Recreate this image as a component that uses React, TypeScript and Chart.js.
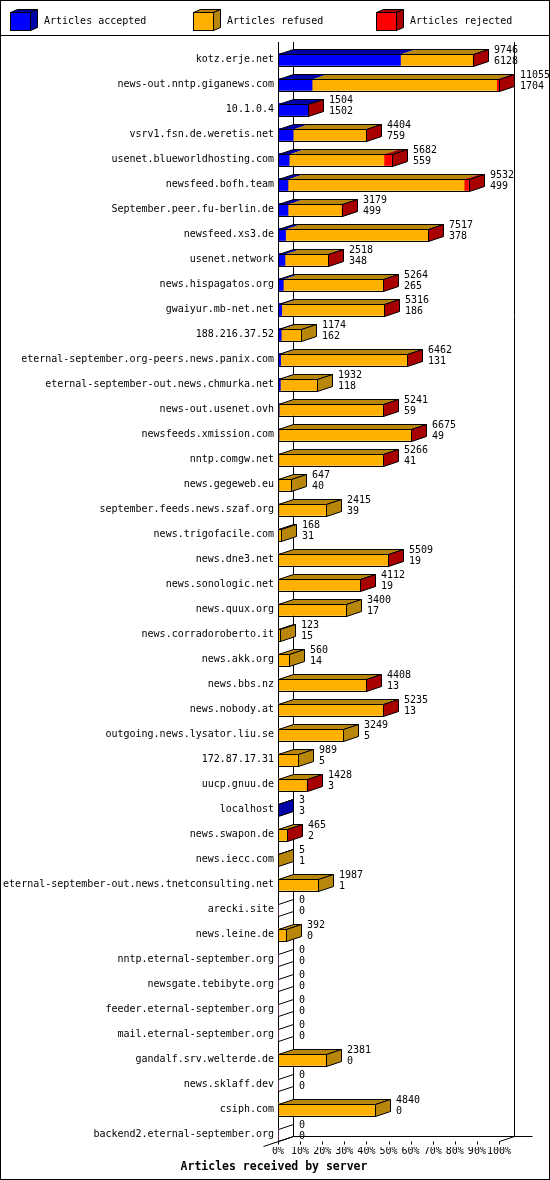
import React, { useEffect, useRef } from "react";
import { Chart, registerables } from "chart.js";

Chart.register(...registerables);

const servers = [
  "kotz.erje.net",
  "news-out.nntp.giganews.com",
  "10.1.0.4",
  "vsrv1.fsn.de.weretis.net",
  "usenet.blueworldhosting.com",
  "newsfeed.bofh.team",
  "September.peer.fu-berlin.de",
  "newsfeed.xs3.de",
  "usenet.network",
  "news.hispagatos.org",
  "gwaiyur.mb-net.net",
  "188.216.37.52",
  "eternal-september.org-peers.news.panix.com",
  "eternal-september-out.news.chmurka.net",
  "news-out.usenet.ovh",
  "newsfeeds.xmission.com",
  "nntp.comgw.net",
  "news.gegeweb.eu",
  "september.feeds.news.szaf.org",
  "news.trigofacile.com",
  "news.dne3.net",
  "news.sonologic.net",
  "news.quux.org",
  "news.corradoroberto.it",
  "news.akk.org",
  "news.bbs.nz",
  "news.nobody.at",
  "outgoing.news.lysator.liu.se",
  "172.87.17.31",
  "uucp.gnuu.de",
  "localhost",
  "news.swapon.de",
  "news.iecc.com",
  "eternal-september-out.news.tnetconsulting.net",
  "arecki.site",
  "news.leine.de",
  "nntp.eternal-september.org",
  "newsgate.tebibyte.org",
  "feeder.eternal-september.org",
  "mail.eternal-september.org",
  "gandalf.srv.welterde.de",
  "news.sklaff.dev",
  "csiph.com",
  "backend2.eternal-september.org",
];

const totals = [
  9746, 11055, 1504, 4404, 5682, 9532, 3179, 7517, 2518, 5264, 5316, 1174,
  6462, 1932, 5241, 6675, 5266, 647, 2415, 168, 5509, 4112, 3400, 123, 560,
  4408, 5235, 3249, 989, 1428, 3, 465, 5, 1987, 0, 392, 0, 0, 0, 0, 2381, 0,
  4840, 0,
];

const accepted = [
  6128, 1704, 1502, 759, 559, 499, 499, 378, 348, 265, 186, 162, 131, 118, 59,
  49, 41, 40, 39, 31, 19, 19, 17, 15, 14, 13, 13, 5, 5, 3, 3, 2, 1, 1, 0, 0, 0,
  0, 0, 0, 0, 0, 0, 0,
];

const rejected = [
  12, 120, 2, 9, 380, 220, 6, 11, 4, 7, 5, 0, 6, 0, 5, 8, 4, 0, 0, 0, 3, 4, 0,
  0, 0, 3, 4, 0, 0, 2, 0, 3, 0, 0, 0, 0, 0, 0, 0, 0, 0, 0, 0, 0,
];

const refused = totals.map((t, i) => t - accepted[i] - rejected[i]);

const seriesLabels = ["Articles accepted", "Articles refused", "Articles rejected"];
const frontColors = ["#0000ff", "#ffb000", "#ff0000"];
const darkColors = ["#0000a8", "#b8860b", "#a80000"];
const xTicks = [0, 10, 20, 30, 40, 50, 60, 70, 80, 90, 100];
const axisTitle = "Articles received by server";

const maxTotal = Math.max(...totals);
const toPct = (arr: number[]) => arr.map((v) => (v / maxTotal) * 100);

const DX = 15;
const DY = 5;
const BAR = 12;
const FONT = '10px "DejaVu Sans Mono", monospace';
const TITLE_FONT = 'bold 11.5px "DejaVu Sans Mono", monospace';

const h = (v: number) => Math.round(v) + 0.5;

function line(ctx: CanvasRenderingContext2D, x1: number, y1: number, x2: number, y2: number) {
  ctx.beginPath();
  ctx.moveTo(x1, y1);
  ctx.lineTo(x2, y2);
  ctx.stroke();
}

function poly(ctx: CanvasRenderingContext2D, pts: number[][], fill?: string, stroke = true) {
  ctx.beginPath();
  ctx.moveTo(pts[0][0], pts[0][1]);
  for (let i = 1; i < pts.length; i++) ctx.lineTo(pts[i][0], pts[i][1]);
  ctx.closePath();
  if (fill) {
    ctx.fillStyle = fill;
    ctx.fill();
  }
  if (stroke) ctx.stroke();
}

const threeD = {
  id: "threeD",
  beforeDraw(chart: any) {
    const { ctx, width, height } = chart;
    ctx.save();
    ctx.fillStyle = "#ffffff";
    ctx.fillRect(0, 0, width, height);
    ctx.restore();
  },
  beforeDatasetsDraw(chart: any) {
    const { ctx } = chart;
    const xs = chart.scales.x;
    const ys = chart.scales.y;
    const x0 = h(xs.getPixelForValue(0));
    const x1 = h(xs.getPixelForValue(100));
    const lastC = ys.getPixelForValue(servers.length - 1);
    const floorF = h(lastC + BAR / 2);
    const floorB = floorF - DY;
    const topY = 42;
    ctx.save();
    ctx.strokeStyle = "#000";
    ctx.lineWidth = 1;
    line(ctx, x0 + DX, topY, x0 + DX, floorB);
    line(ctx, x1 + DX, topY, x1 + DX, floorB);
    line(ctx, x0 + DX, floorB, x1 + DX + 18, floorB);
    line(ctx, x0 - DX, floorF + DY, x0 + DX, floorB);
    line(ctx, x1, floorF, x1 + DX, floorB);
    line(ctx, x0, topY, x0, floorF);
    for (const v of xTicks) {
      const p = h(xs.getPixelForValue(v));
      line(ctx, p, floorF, p, floorF + 3);
    }
    ctx.restore();
  },
  afterDatasetsDraw(chart: any) {
    const { ctx } = chart;
    const xs = chart.scales.x;
    const ys = chart.scales.y;
    const x0 = h(xs.getPixelForValue(0));
    const metas = [0, 1, 2].map((d) => chart.getDatasetMeta(d));
    ctx.save();
    ctx.strokeStyle = "#000";
    ctx.lineWidth = 1;
    ctx.lineJoin = "miter";
    for (let i = 0; i < servers.length; i++) {
      const c = ys.getPixelForValue(i);
      const top = h(c - BAR / 2);
      const bottom = h(c + BAR / 2);
      const vals = [accepted[i], refused[i], rejected[i]];
      let last = -1;
      vals.forEach((v, d) => {
        if (v > 0) last = d;
      });
      let xEnd = x0;
      if (last >= 0) {
        xEnd = h(metas[last].data[i].x);
        // top faces per segment
        vals.forEach((v, d) => {
          if (v <= 0) return;
          const el = metas[d].data[i];
          const a = Math.max(x0, el.base);
          const b = el.x;
          poly(
            ctx,
            [
              [a, top],
              [b, top],
              [b + DX, top - DY],
              [a + DX, top - DY],
            ],
            darkColors[d],
            false
          );
        });
        // top face outline
        poly(ctx, [
          [x0, top],
          [xEnd, top],
          [xEnd + DX, top - DY],
          [x0 + DX, top - DY],
        ]);
        // side face
        poly(
          ctx,
          [
            [xEnd, top],
            [xEnd + DX, top - DY],
            [xEnd + DX, bottom - DY],
            [xEnd, bottom],
          ],
          darkColors[last]
        );
        // front outline
        ctx.strokeRect(x0, top, xEnd - x0, bottom - top);
      } else {
        line(ctx, x0, top, x0 + DX, top - DY);
        line(ctx, x0, bottom, x0 + DX, bottom - DY);
      }
      ctx.fillStyle = "#000";
      ctx.font = FONT;
      ctx.textAlign = "left";
      ctx.textBaseline = "middle";
      const tx = Math.round(xEnd + DX + 5);
      ctx.fillText(String(totals[i]), tx, c - 9);
      ctx.fillText(String(accepted[i]), tx, c + 1.5);
    }
    ctx.restore();
  },
  afterDraw(chart: any) {
    const { ctx, width, height } = chart;
    ctx.save();
    ctx.strokeStyle = "#000";
    ctx.lineWidth = 1;
    // legend
    for (let k = 0; k < 3; k++) {
      const ix = 10 + 183 * k + 0.5;
      const iy = 12.5;
      const w = 20;
      const hh = 18;
      const dx = 7;
      const dy = 3;
      poly(
        ctx,
        [
          [ix, iy],
          [ix + w, iy],
          [ix + w + dx, iy - dy],
          [ix + dx, iy - dy],
        ],
        darkColors[k]
      );
      poly(
        ctx,
        [
          [ix + w, iy],
          [ix + w + dx, iy - dy],
          [ix + w + dx, iy + hh - dy],
          [ix + w, iy + hh],
        ],
        darkColors[k]
      );
      ctx.fillStyle = frontColors[k];
      ctx.fillRect(ix, iy, w, hh);
      ctx.strokeRect(ix, iy, w, hh);
      ctx.fillStyle = "#000";
      ctx.font = FONT;
      ctx.textAlign = "left";
      ctx.textBaseline = "middle";
      ctx.fillText(chart.data.datasets[k].label, 10 + 183 * k + 34, 21);
    }
    line(ctx, 0, 35.5, width, 35.5);
    // title
    ctx.fillStyle = "#000";
    ctx.font = TITLE_FONT;
    ctx.textAlign = "center";
    ctx.textBaseline = "middle";
    ctx.fillText(axisTitle, 274, 1167);
    // border
    ctx.strokeRect(0.5, 0.5, width - 1, height - 1);
    ctx.restore();
  },
};

export default function App() {
  const ref = useRef<HTMLCanvasElement | null>(null);
  useEffect(() => {
    document.body.style.margin = "0";
    const canvas = ref.current;
    if (!canvas) return;
    const chart = new Chart(canvas, {
      type: "bar",
      data: {
        labels: servers,
        datasets: [
          { label: seriesLabels[0], data: toPct(accepted), backgroundColor: frontColors[0] },
          { label: seriesLabels[1], data: toPct(refused), backgroundColor: frontColors[1] },
          { label: seriesLabels[2], data: toPct(rejected), backgroundColor: frontColors[2] },
        ],
      },
      options: {
        indexAxis: "y",
        responsive: false,
        animation: false,
        devicePixelRatio: 1,
        layout: { padding: { top: 47, left: 0, right: 51, bottom: 0 } },
        datasets: {
          bar: { barThickness: BAR, borderWidth: 0, borderSkipped: false },
        },
        plugins: {
          legend: { display: false },
          tooltip: { enabled: false },
          title: { display: false },
        },
        scales: {
          x: {
            type: "linear",
            stacked: true,
            min: 0,
            max: 100,
            position: "bottom",
            afterFit: (s: any) => {
              s.height = 33;
            },
            grid: { display: false, drawTicks: false },
            border: { display: false },
            ticks: {
              stepSize: 10,
              autoSkip: false,
              maxRotation: 0,
              padding: -2,
              color: "#000",
              font: { family: '"DejaVu Sans Mono", monospace', size: 10 },
              callback: (v: any) => `${v}%`,
            },
          },
          y: {
            type: "category",
            stacked: true,
            afterFit: (s: any) => {
              s.width = 278;
            },
            grid: { display: false, drawTicks: false },
            border: { display: false },
            ticks: {
              autoSkip: false,
              padding: 4,
              color: "#000",
              font: { family: '"DejaVu Sans Mono", monospace', size: 10 },
            },
          },
        },
      },
      plugins: [threeD],
    } as any);
    return () => chart.destroy();
  }, []);
  return (
    <div style={{ position: "absolute", left: 0, top: 0, width: 550, height: 1180 }}>
      <canvas ref={ref} width={550} height={1180} style={{ display: "block" }} />
    </div>
  );
}
